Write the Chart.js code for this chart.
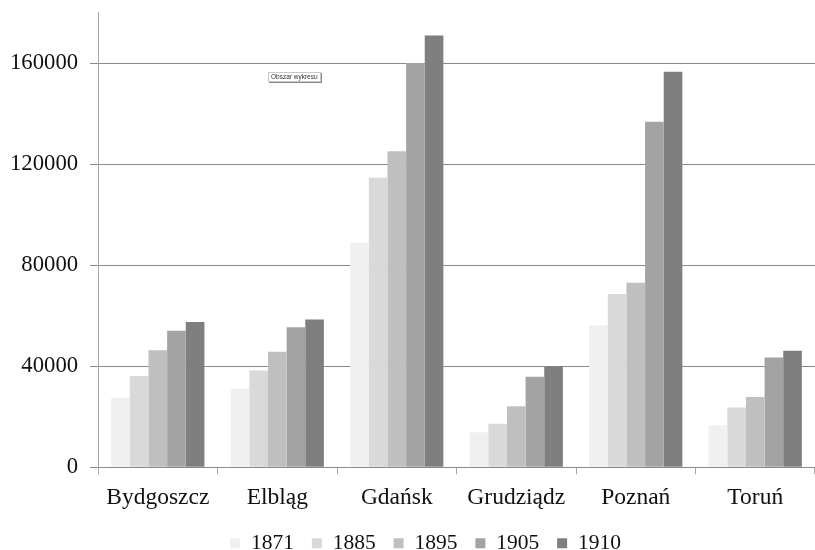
<!DOCTYPE html>
<html>
<head>
<meta charset="utf-8">
<script src="https://cdn.jsdelivr.net/npm/chart.js@4"></script>
<style>
  html, body { margin: 0; padding: 0; background: #fff; }
  #wrap { position: relative; width: 815px; height: 550px; }
  #hint {
    position: absolute; left: 268px; top: 72px;
    font: 6.5px "Liberation Sans", sans-serif; color: #333;
    background: #fff; border: 1px solid #c8c8c8;
    box-shadow: 1px 1px 0 #8a8a8a; padding: 0 2px; line-height: 8px;
  }
</style>
</head>
<body>
<div id="wrap">
  <canvas id="chart" width="815" height="550"></canvas>
  <div id="hint">Obszar wykresu</div>
</div>
<script>
// Population of cities, by census year
const cities = ['Bydgoszcz', 'Elbląg', 'Gdańsk', 'Grudziądz', 'Poznań', 'Toruń'];
const years = ['1871', '1885', '1895', '1905', '1910'];

const pop1871 = [27500, 31100, 88900, 13900, 56200, 16600];
const pop1885 = [36100, 38300, 114600, 17200, 68600, 23700];
const pop1895 = [46300, 45700, 125100, 24200, 73100, 27800];
const pop1905 = [54100, 55400, 160000, 35800, 136800, 43500];
const pop1910 = [57500, 58500, 170900, 40000, 156600, 46100];

const yTicks = [0, 40000, 80000, 120000, 160000];

const shades = ['#f0f0f0', '#d9d9d9', '#bfbfbf', '#a3a3a3', '#7f7f7f'];

(function () {
  const series = [pop1871, pop1885, pop1895, pop1905, pop1910];
  const serif = '"Liberation Serif", "Times New Roman", serif';

  // move the legend row a little, chart.js puts it right under the axis
  // and centres it on the whole canvas
  const legendNudge = {
    id: 'legendNudge',
    afterLayout(chart) {
      const lg = chart.legend;
      if (!lg) return;
      lg.top -= 6;
      lg.bottom -= 6;
      lg.left += 19;
      lg.right += 19;
    },
  };

  new Chart(document.getElementById('chart').getContext('2d'), {
    type: 'bar',
    data: {
      labels: cities,
      datasets: years.map((y, i) => ({
        label: y,
        data: series[i],
        backgroundColor: shades[i],
        borderWidth: 0,
        categoryPercentage: 0.78,
        barPercentage: 1.0,
      })),
    },
    options: {
      responsive: false,
      animation: false,
      layout: { padding: { top: 0, left: -2, right: 0, bottom: -20 } },
      plugins: {
        tooltip: { enabled: false },
        legend: {
          position: 'bottom',
          labels: {
            color: '#111',
            font: { family: serif, size: 21.5 },
            boxWidth: 10,
            boxHeight: 10,
            padding: 18,
          },
        },
      },
      scales: {
        x: {
          grid: {
            offset: true,
            drawOnChartArea: false,
            drawTicks: true,
            tickLength: 7,
            color: '#a6a6a6',
          },
          border: { color: '#8a8a8a' },
          ticks: {
            color: '#111',
            padding: 9,
            font: { family: serif, size: 23.5 },
          },
        },
        y: {
          min: 0,
          max: 180000,
          afterBuildTicks: (axis) => {
            axis.ticks = yTicks.map((v) => ({ value: v }));
          },
          grid: {
            color: '#8a8a8a',
            tickLength: 8,
          },
          border: { color: '#a6a6a6' },
          ticks: {
            color: '#111',
            padding: 12,
            // tiny line height so the top label does not reserve extra room
            font: { family: serif, size: 22.7, lineHeight: 0.05 },
            callback: (v) => String(v),
          },
        },
      },
    },
    plugins: [legendNudge],
  });
})();
</script>
</body>
</html>
